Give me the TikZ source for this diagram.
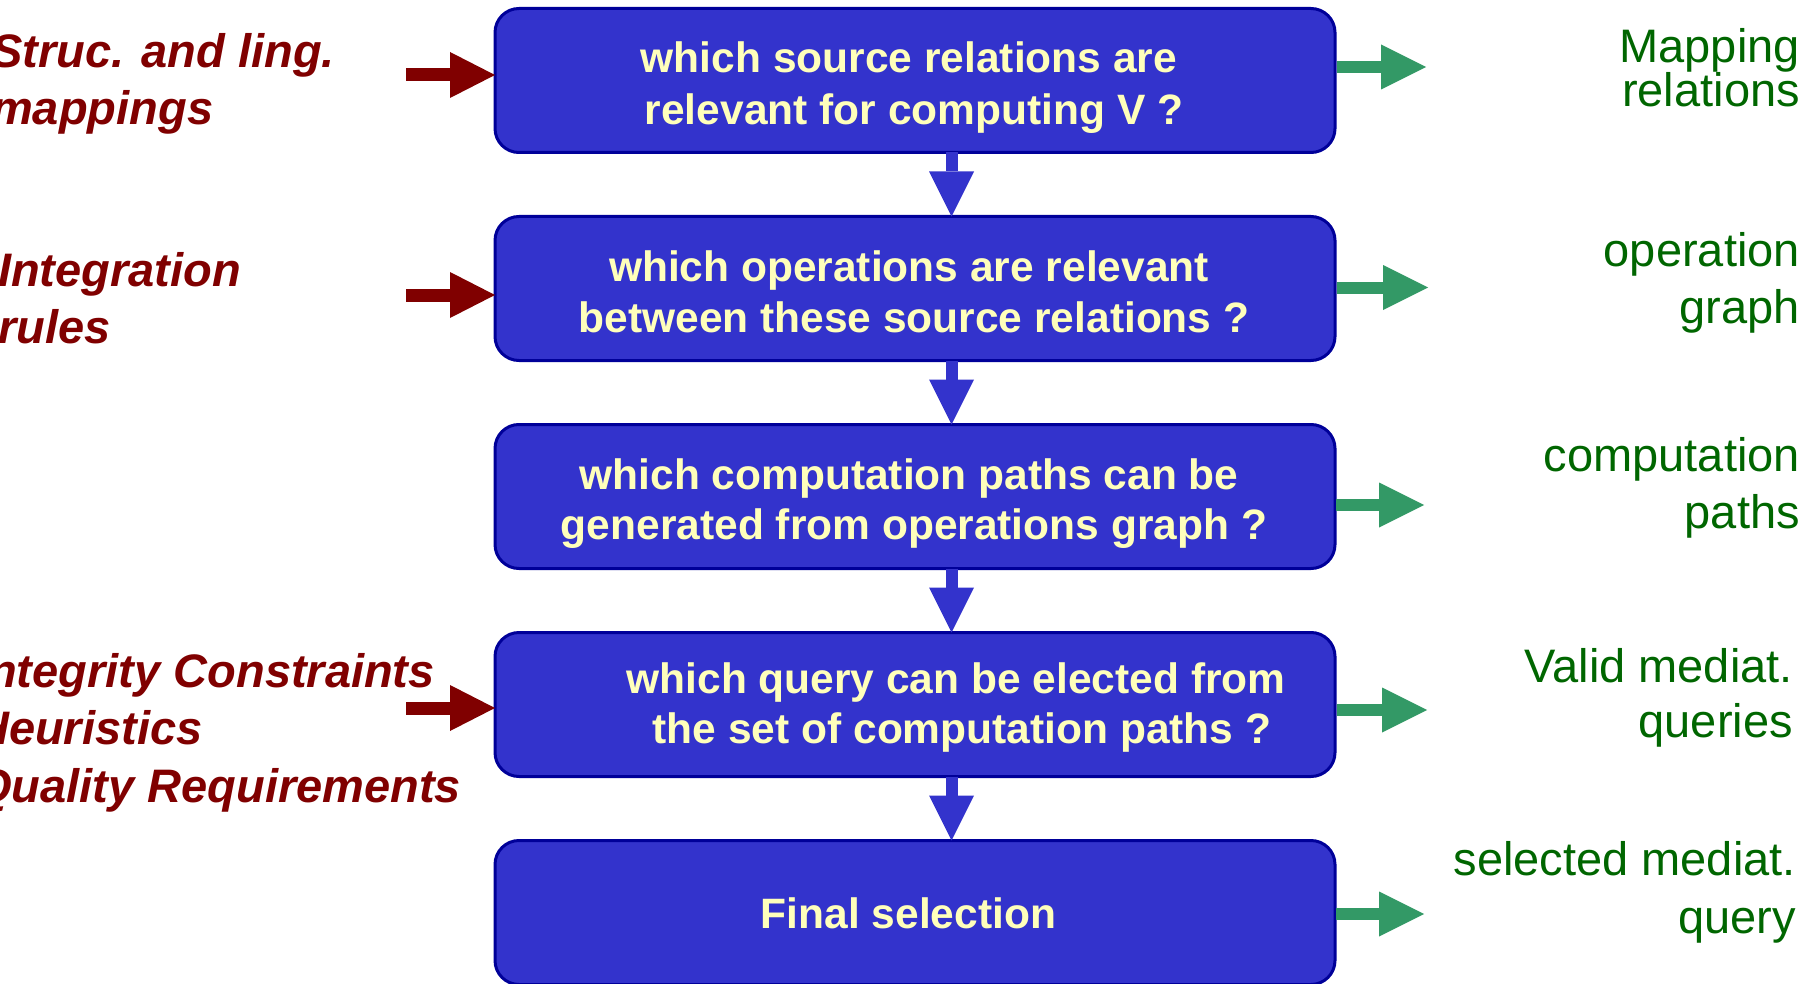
\documentclass[tikz,border=0pt]{standalone}
\usepackage{fontspec}
\setmainfont{Liberation Sans}
\usetikzlibrary{arrows.meta,calc}
\definecolor{boxfill}{HTML}{3333CC}
\definecolor{boxline}{HTML}{000099}
\definecolor{boxtxt}{HTML}{FFFFBB}
\definecolor{inred}{HTML}{800000}
\definecolor{outgreen}{HTML}{006600}
\definecolor{arrgreen}{HTML}{339966}
\begin{document}
\begin{tikzpicture}[x=1pt,y=-1pt,
  stepbox/.style={draw=boxline, line width=3pt, fill=boxfill, rounded corners=24pt,
    minimum width=840pt, minimum height=144pt, inner sep=0pt, outer sep=0pt},
  boxtext/.style={text=boxtxt, font=\bfseries\fontsize{42.5}{50}\selectfont,
    inner sep=0pt, anchor=base},
  intext/.style={text=inred, font=\bfseries\itshape\fontsize{47}{57}\selectfont,
    inner sep=0pt, anchor=base west},
  outtext/.style={text=outgreen, font=\fontsize{47}{57}\selectfont,
    inner sep=0pt, anchor=base east},
  downarrow/.style={draw=boxfill, line width=12pt,
    -{Triangle[length=45pt,width=45pt,line width=0pt]}},
  inarrow/.style={draw=inred, line width=13pt,
    -{Triangle[length=45pt,width=46pt,line width=0pt]}},
  outarrow/.style={draw=arrgreen, line width=12pt,
    -{Triangle[length=45pt,width=45pt,line width=0pt]}},
]
\useasboundingbox (0,0) rectangle (1811,984);
\clip (0,0) rectangle (1811,984);
\fill[white] (0,0) rectangle (1811,984);

% boxes
\node[stepbox] (b1) at (915,80.5) {};
\node[stepbox] (b2) at (915,288.5) {};
\node[stepbox] (b3) at (915,496.5) {};
\node[stepbox] (b4) at (915,704.5) {};
\node[stepbox] (b5) at (915,912.5) {};

% box texts
\node[boxtext] (t1a) at (909,73) {which source relations are};
\node[boxtext] (t1b) at (914,124.5) {relevant for computing V ?};
\node[boxtext] (t2a) at (909,281) {which operations are relevant};
\node[boxtext] (t2b) at (914,332) {between these source relations ?};
\node[boxtext] (t3a) at (909,489) {which computation paths can be};
\node[boxtext] (t3b) at (914,539) {generated from operations graph ?};
\node[boxtext] (t4a) at (956,693) {which query can be elected from};
\node[boxtext] (t4b) at (962,743) {the set of computation paths ?};
\node[boxtext] (t5) at (908.5,928) {Final selection};

% left inputs
\node[intext] (l1a) at (-9,68) {Struc. and ling.};
\node[intext] (l1b) at (-9,125) {mappings};
\node[intext] (l2a) at (-2,287) {Integration};
\node[intext] (l2b) at (-2,343) {rules};
\node[intext] (l3a) at (-25,687) {Integrity Constraints};
\node[intext] (l3b) at (-25,744) {Heuristics};
\node[intext] (l3c) at (-25,802) {Quality Requirements};

% right outputs
\node[outtext] (o1a) at (1800,63) {Mapping};
\node[outtext] (o1b) at (1800,107) {relations};
\node[outtext] (o2a) at (1800,266) {operation};
\node[outtext] (o2b) at (1800,323) {graph};
\node[outtext] (o3a) at (1800,471) {computation};
\node[outtext] (o3b) at (1800,528) {paths};
\node[outtext] (o4a) at (1793,682) {Valid mediat.};
\node[outtext] (o4b) at (1793,737) {queries};
\node[outtext] (o5a) at (1796,875) {selected mediat.};
\node[outtext] (o5b) at (1796,933) {query};

% down arrows
\foreach \a/\b in {b1/b2,b2/b3,b3/b4,b4/b5}
  \draw[downarrow] ($(\a.south)+(36.5,0)$) -- ($(\b.north)+(36.5,0)$);

% input arrows
\coordinate (r1) at (406,75);
\coordinate (r2) at (406,295);
\coordinate (r3) at (406,708);
\draw[inarrow] (r1) -- (r1 -| b1.west);
\draw[inarrow] (r2) -- (r2 -| b2.west);
\draw[inarrow] (r3) -- (r3 -| b4.west);

% output arrows
\coordinate (g1) at (1426,67);
\coordinate (g2) at (1428,287.5);
\coordinate (g3) at (1424,505);
\coordinate (g4) at (1427,710);
\coordinate (g5) at (1424,914);
\draw[outarrow] ($(g1 -| b1.east)+(2,0)$) -- (g1);
\draw[outarrow] ($(g2 -| b2.east)+(2,0)$) -- (g2);
\draw[outarrow] ($(g3 -| b3.east)+(1,0)$) -- (g3);
\draw[outarrow] ($(g4 -| b4.east)+(2,0)$) -- (g4);
\draw[outarrow] ($(g5 -| b5.east)+(1,0)$) -- (g5);
\end{tikzpicture}
\end{document}
